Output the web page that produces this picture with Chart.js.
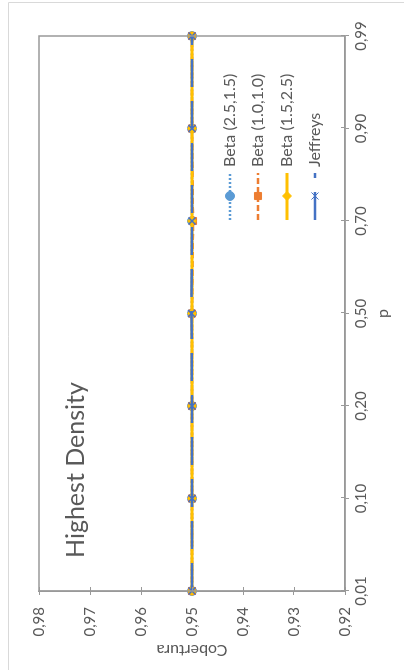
<!DOCTYPE html>
<html>
<head>
<meta charset="utf-8">
<script src="https://cdn.jsdelivr.net/npm/chart.js@4.4.1/dist/chart.umd.min.js"></script>
<style>
  html, body { margin: 0; padding: 0; background: #fff; width: 404px; height: 670px; overflow: hidden; }
  /* the chart is laid out landscape and turned a quarter turn to stand upright */
  #wrap {
    position: absolute; left: 0; top: 0; width: 670px; height: 404px;
    transform-origin: 0 0;
    transform: translate(0, 670px) rotate(-90deg);
  }
</style>
</head>
<body>
<div id="wrap"><canvas id="c" width="670" height="404"></canvas></div>
<script>
// proportions p
const categories = ['0,01', '0,10', '0,20', '0,50', '0,70', '0,90', '0,99'];

// coverage of the highest density intervals
const beta2515 = [0.950, 0.950, 0.950, 0.950, 0.950, 0.950, 0.950];
const beta1010 = [0.950, 0.950, 0.950, 0.950, 0.9498, 0.950, 0.950];
const beta1525 = [0.950, 0.950, 0.950, 0.950, 0.950, 0.950, 0.950];
const jeffreys = [0.950, 0.950, 0.950, 0.9501, 0.950, 0.950, 0.950];

const seriesNames = ['Beta (2.5,1.5)', 'Beta (1.0,1.0)', 'Beta (1.5,2.5)', 'Jeffreys'];
const yTicks = [0.92, 0.93, 0.94, 0.95, 0.96, 0.97, 0.98];

const FONT = 'Lato';
const TEXT = '#595959';
const AXIS = '#999999';

const fmt = v => v.toFixed(2).replace('.', ',');

// frame around the plot, cross tick marks, heading and legend
const decor = {
  id: 'decor',
  afterDraw(chart) {
    const ctx = chart.ctx;
    const a = chart.chartArea;
    const xs = chart.scales.x, ys = chart.scales.y;
    ctx.save();

    // outer chart border
    ctx.strokeStyle = '#d9d9d9';
    ctx.lineWidth = 1;
    ctx.beginPath();
    ctx.moveTo(-1, 8.5); ctx.lineTo(667.5, 8.5); ctx.lineTo(667.5, 410);
    ctx.stroke();

    // plot frame
    ctx.strokeStyle = AXIS;
    ctx.lineWidth = 1.5;
    ctx.strokeRect(a.left, a.top, a.right - a.left, a.bottom - a.top);

    // tick marks crossing into the plot
    ctx.lineWidth = 1;
    ctx.beginPath();
    xs.ticks.forEach((t, i) => {
      const px = Math.round(xs.getPixelForTick(i)) + 0.5;
      ctx.moveTo(px, a.bottom); ctx.lineTo(px, a.bottom - 4);
    });
    ys.ticks.forEach((t, i) => {
      const py = Math.round(ys.getPixelForTick(i)) + 0.5;
      ctx.moveTo(a.left, py); ctx.lineTo(a.left + 4, py);
    });
    ctx.stroke();

    // heading
    ctx.fillStyle = TEXT;
    ctx.font = '25px ' + FONT;
    ctx.textBaseline = 'middle';
    ctx.textAlign = 'left';
    ctx.fillText('Highest Density', 112, 76);

    // legend
    const rows = [230, 258, 287, 315];
    chart.data.datasets.forEach((ds, i) => {
      const y = rows[i];
      ctx.save();
      ctx.strokeStyle = ds.borderColor;
      ctx.lineWidth = ds.borderWidth;
      ctx.setLineDash(ds.borderDash || []);
      ctx.lineCap = 'butt';
      ctx.beginPath();
      ctx.moveTo(450, y); ctx.lineTo(497, y);
      ctx.stroke();
      ctx.restore();
      ctx.save();
      ctx.fillStyle = ds.pointBackgroundColor;
      ctx.strokeStyle = ds.pointBorderColor;
      Chart.helpers.drawPoint(ctx, {
        pointStyle: ds.pointStyle, radius: ds.pointRadius, rotation: 0,
        borderWidth: ds.pointBorderWidth
      }, 474, y);
      ctx.restore();
      ctx.fillStyle = TEXT;
      ctx.font = '16px ' + FONT;
      ctx.textBaseline = 'middle';
      ctx.fillText(ds.label, 503, y);
    });
    ctx.restore();
  }
};

const chart = new Chart(document.getElementById('c'), {
  type: 'line',
  data: {
    labels: categories,
    datasets: [
      {
        label: seriesNames[0], data: beta2515, order: 3,
        borderColor: '#5B9BD5', borderWidth: 2.5, borderDash: [2, 2],
        pointStyle: 'circle', pointRadius: 4.5,
        pointBackgroundColor: '#5B9BD5', pointBorderColor: '#5B9BD5', pointBorderWidth: 1
      },
      {
        label: seriesNames[1], data: beta1010, order: 2,
        borderColor: '#ED7D31', borderWidth: 2.5, borderDash: [6, 3],
        pointStyle: 'rect', pointRadius: 5,
        pointBackgroundColor: '#ED7D31', pointBorderColor: '#ED7D31', pointBorderWidth: 1
      },
      {
        label: seriesNames[2], data: beta1525, order: 1,
        borderColor: '#FFC000', borderWidth: 3,
        pointStyle: 'rectRot', pointRadius: 4.5,
        pointBackgroundColor: '#FFC000', pointBorderColor: '#FFC000', pointBorderWidth: 1
      },
      {
        label: seriesNames[3], data: jeffreys, order: 0,
        borderColor: '#4472C4', borderWidth: 2.5, borderDash: [28, 14],
        pointStyle: 'crossRot', pointRadius: 5,
        pointBackgroundColor: '#4472C4', pointBorderColor: '#4472C4', pointBorderWidth: 1.5
      }
    ]
  },
  options: {
    responsive: false,
    animation: false,
    devicePixelRatio: 1,
    layout: { padding: { top: 39, right: 36, left: 0, bottom: 0 } },
    plugins: { legend: { display: false }, tooltip: { enabled: false } },
    elements: { line: { tension: 0 } },
    scales: {
      x: {
        type: 'category',
        offset: false,
        grid: { drawOnChartArea: false, drawTicks: true, tickLength: 4, color: AXIS },
        border: { color: AXIS, width: 1.5 },
        ticks: { font: { family: FONT, size: 15 }, color: TEXT, padding: 3, maxRotation: 0, autoSkip: false },
        title: { display: true, text: 'p', font: { family: FONT, size: 16 }, color: TEXT, padding: { top: 0, bottom: 12 } },
        afterFit(s) { s.height = 59; }
      },
      y: {
        min: yTicks[0],
        max: yTicks[yTicks.length - 1],
        afterBuildTicks(s) { s.ticks = yTicks.map(v => ({ value: v })); },
        grid: { drawOnChartArea: false, drawTicks: true, tickLength: 4, color: AXIS },
        border: { color: AXIS, width: 1.5 },
        ticks: { font: { family: FONT, size: 15 }, color: TEXT, padding: 12, callback: v => fmt(v) },
        title: { display: true, text: 'Cobertura', font: { family: FONT, size: 16 }, color: TEXT, padding: { top: 10, bottom: 0 } },
        afterFit(s) { s.width = 79; }
      }
    }
  },
  plugins: [decor]
});
</script>
</body>
</html>
